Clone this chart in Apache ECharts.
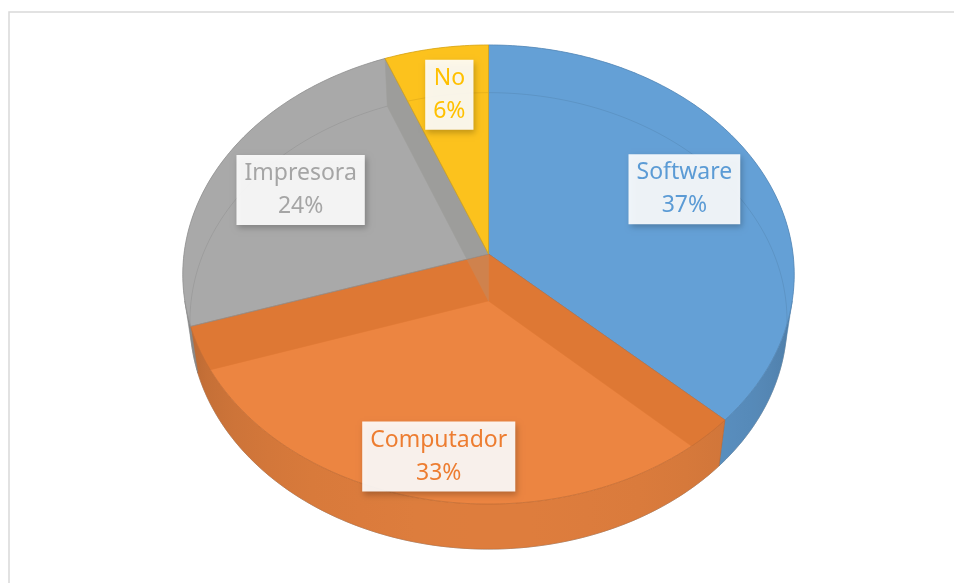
<!DOCTYPE html>
<html>
<head>
<meta charset="utf-8">
<script src="https://cdn.jsdelivr.net/npm/echarts@6/dist/echarts.min.js"></script>
<style>
html, body { margin: 0; padding: 0; background: #fff; }
#main { width: 954px; height: 583px; }
</style>
</head>
<body>
<div id="main"></div>
<script>
const chartDom = document.getElementById('main');
const myChart = echarts.init(chartDom);

// data
const categories = ['Software', 'Computador', 'Impresora', 'No'];
const values = [37, 33, 24, 6];

// styles
const topColors = ['#64a0d6', '#ec8541', '#a9a9a9', '#fcc11e'];
const faceColors = ['#3d72aa', '#b4500c', '#7a7a70', '#c89400'];
const textColors = ['#5b9bd5', '#ed7d31', '#a5a5a5', '#ffc000'];
const labelRadius = [0.7, 0.86, 0.7, 0.77];
const labelNudge = [[5, -3], [12, -4], [0, 2], [2, 2]];

// 3d view of the pie: centre, focal length, radius, elevation, thickness
const view = { cx: 488.5, cy: 254, f: 2264, R: 0.1345, elev: 48.4 * Math.PI / 180, T: 0.032 };

const total = values.reduce((a, b) => a + b, 0);
const starts = [];
let acc = 0;
for (let v of values) {
	starts.push(acc / total * Math.PI * 2);
	acc += v;
}

function project(theta, r, h) {
	const x = view.R * r * Math.sin(theta);
	const w = -view.R * r * Math.cos(theta);
	const s = Math.sin(view.elev), c = Math.cos(view.elev);
	const up = -w * s + h * c;
	const dist = 1 - (w * c + h * s);
	return [view.cx + view.f * x / dist, view.cy - view.f * up / dist];
}

function arc(a0, a1, h) {
	const n = Math.max(2, Math.ceil((a1 - a0) / (Math.PI / 180)));
	const pts = [];
	for (let k = 0; k <= n; k++) {
		pts.push(project(a0 + (a1 - a0) * k / n, 1, h));
	}
	return pts;
}

function shade(hex, k) {
	const n = parseInt(hex.slice(1), 16);
	const r = Math.round(((n >> 16) & 255) * k);
	const g = Math.round(((n >> 8) & 255) * k);
	const b = Math.round((n & 255) * k);
	return 'rgb(' + r + ',' + g + ',' + b + ')';
}

function rgba(hex, a) {
	const n = parseInt(hex.slice(1), 16);
	return 'rgba(' + ((n >> 16) & 255) + ',' + ((n >> 8) & 255) + ',' + (n & 255) + ',' + a + ')';
}

function wallShade(hex, t) {
	const facing = Math.max(0, -Math.cos(t));
	return shade(hex, 0.62 + 0.32 * Math.sqrt(facing));
}

function renderSlice(params, api) {
	const i = params.dataIndex;
	const a0 = starts[i];
	const a1 = a0 + api.value(0) / total * Math.PI * 2;
	const T = view.T;
	const centerTop = project(0, 0, 0);
	const centerBottom = project(0, 0, -T);
	const topPts = [centerTop].concat(arc(a0, a1, 0));
	const children = [];

	// opaque underlay of the top face
	children.push({
		type: 'polygon', z2: 1,
		shape: { points: topPts },
		style: { fill: topColors[i] }
	});
	// bottom rim, seen through the top
	children.push({
		type: 'polyline', z2: 2,
		shape: { points: arc(a0, a1, -T) },
		style: { fill: null, stroke: 'rgba(0,0,0,0.3)', lineWidth: 1 }
	});

	// inner faces of the slice that show through its top
	[[a0, -1], [a1, 1]].forEach(([t, dir]) => {
		if (Math.abs(Math.sin(t)) < 1e-6 || Math.sin(t) * dir > 0) return;
		children.push({
			type: 'polygon', z2: 3,
			shape: { points: [centerTop, project(t, 1, 0), project(t, 1, -T), centerBottom] },
			style: { fill: faceColors[i], stroke: faceColors[i], lineWidth: 0.5 }
		});
	});

	// outer wall, front part only, shaded left to right
	const sil = Math.acos(-view.R / Math.cos(view.elev));
	const w0 = Math.max(a0, sil), w1 = Math.min(a1, Math.PI * 2 - sil);
	if (w1 > w0) {
		const upper = arc(w0, w1, 0);
		const lower = arc(w0, w1, -T).reverse();
		const xa = project(w1, 1, 0)[0], xb = project(w0, 1, 0)[0];
		const stops = [];
		const n = 12;
		for (let k = n; k >= 0; k--) {
			const t = w0 + (w1 - w0) * k / n;
			const x = project(t, 1, 0)[0];
			stops.push({ offset: Math.min(1, Math.max(0, (x - xa) / (xb - xa || 1))), color: wallShade(topColors[i], t) });
		}
		children.push({
			type: 'polygon', z2: 4,
			shape: { points: upper.concat(lower) },
			style: {
				fill: new echarts.graphic.LinearGradient(xa, 0, xb, 0, stops, true),
				stroke: shade(topColors[i], 0.8),
				lineWidth: 0.5
			}
		});
	}

	// translucent top face
	children.push({
		type: 'polygon', z2: 5,
		shape: { points: topPts },
		style: { fill: rgba(topColors[i], 0.75), stroke: shade(topColors[i], 0.85), lineWidth: 0.8 }
	});

	// data label
	const mid = (a0 + a1) / 2;
	const pos = project(mid, labelRadius[i], 0);
	children.push({
		type: 'text', z2: 10,
		x: pos[0] + labelNudge[i][0], y: pos[1] + labelNudge[i][1],
		style: {
			text: categories[i] + '\n' + Math.round(api.value(0) / total * 100) + '%',
			fill: textColors[i],
			font: '23px "Noto Sans"',
			align: 'center',
			verticalAlign: 'middle',
			lineHeight: 33,
			backgroundColor: 'rgba(255,255,255,0.9)',
			padding: [2, 8],
			shadowBlur: 6,
			shadowColor: 'rgba(0,0,0,0.25)',
			shadowOffsetX: 2,
			shadowOffsetY: 3
		}
	});

	return { type: 'group', children: children };
}

let option = {
	animation: false,
	graphic: [{
		type: 'rect',
		shape: { x: 9, y: 12, width: 1000, height: 1000 },
		style: { fill: null, stroke: '#d9d9d9', lineWidth: 1.5 },
		silent: true
	}],
	series: [{
		type: 'custom',
		coordinateSystem: 'none',
		silent: true,
		renderItem: renderSlice,
		data: values.map((v, i) => ({ name: categories[i], value: v }))
	}]
};

myChart.setOption(option);
</script>
</body>
</html>
